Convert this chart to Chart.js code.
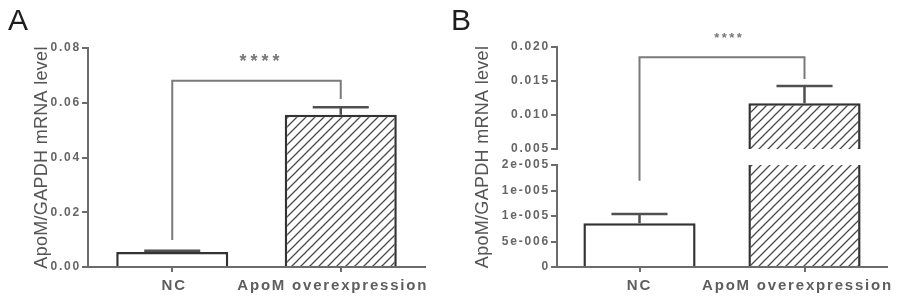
<!DOCTYPE html>
<html><head><meta charset="utf-8">
<script src="https://cdn.jsdelivr.net/npm/chart.js@4"></script>
<style>
html,body{margin:0;padding:0;background:#fff;}
#wrap{position:relative;width:898px;height:302px;overflow:hidden;background:#fff;}
.panel{position:absolute;top:0;width:449px;height:302px;}
.lbl{position:absolute;top:5px;font:30px "Liberation Sans",Arial,sans-serif;line-height:30px;color:#1e1e1e;}
</style></head><body>
<div id="wrap">
<div class="panel" style="left:0"><canvas id="cA" width="449" height="302"></canvas></div>
<div class="panel" style="left:449px"><canvas id="cB" width="449" height="302"></canvas></div>
<div class="lbl" style="left:8px">A</div>
<div class="lbl" style="left:451px">B</div>
</div>
<script>
// ---------- data ----------
const categories = ['NC', 'ApoM overexpression'];
const yTitle = 'ApoM/GAPDH mRNA level';

// Panel A
const meansA = [0.0055, 0.0556];
const semA = [0.0004, 0.0028];
const tickValsA = [0, 0.02, 0.04, 0.06, 0.08];
const tickTextA = ['0.00', '0.02', '0.04', '0.06', '0.08'];
const bracketA = [0.0099, 0.0680, 0.0614];   // left leg start, top bar, right leg end
const starsA = ['****', 0.0768];

// Panel B (broken axis)
const meansB = [0.0000086, 0.01172];
const semB = [0.0000018, 0.00254];
const tickValsBLow = [0, 0.000005, 0.00001, 0.000015, 0.00002];
const tickTextBLow = ['0', '5e-006', '1e-005', '1e-005', '2e-005'];
const tickValsBHigh = [0.005, 0.010, 0.015, 0.020];
const tickTextBHigh = ['0.005', '0.010', '0.015', '0.020'];
const bracketB = [0.0000169, 0.0185, 0.0153]; // left leg start (low axis), top (high), right end (high)
const starsB = ['****', 0.0218];

// ---------- style ----------
const FONT = '"Liberation Sans", Arial, sans-serif';
const AXIS = '#6c6c6c';
const BAR_BORDER = '#333333';
const ERR = '#505050';
const BRACKET = '#7a7a7a';

function makeHatch(ctx) {
  const s = 9, c = document.createElement('canvas');
  c.width = s; c.height = s;
  const g = c.getContext('2d');
  g.fillStyle = '#ffffff'; g.fillRect(0, 0, s, s);
  g.strokeStyle = '#4a4a4a'; g.lineWidth = 1.3;
  g.beginPath();
  g.moveTo(-1, s + 1); g.lineTo(s + 1, -1);
  g.moveTo(-1, 1); g.lineTo(1, -1);
  g.moveTo(s - 1, s + 1); g.lineTo(s + 1, s - 1);
  g.stroke();
  return ctx.createPattern(c, 'repeat');
}

function yScale(vals, texts, width, extra) {
  return Object.assign({
    type: 'linear', position: 'left',
    min: vals[0], max: vals[vals.length - 1],
    afterBuildTicks: s => { s.ticks = vals.map(v => ({ value: v })); },
    afterFit: s => { s.width = width; },
    ticks: { callback: (v, i) => texts[i], color: '#666666', autoSkip: false,
             font: { family: FONT, size: 12, weight: 'bold' }, padding: 1, z: 1 },
    grid: { display: true, drawOnChartArea: false, drawTicks: true, tickLength: 6, color: AXIS, lineWidth: 2 },
    border: { display: true, color: AXIS, width: 2 }
  }, extra || {});
}

function xScale() {
  return {
    type: 'category', offset: true,
    grid: { display: true, drawOnChartArea: false, offset: false, tickLength: 5, color: AXIS, lineWidth: 2 },
    border: { display: true, color: AXIS, width: 2 },
    ticks: { color: '#5e5e5e', font: { family: FONT, size: 15, weight: 'bold' }, padding: 5,
             maxRotation: 0, autoSkip: false, z: 1 },
    afterFit: s => { s.height = 35; }
  };
}

function titleOpts(pad) {
  return { display: true, text: yTitle, color: '#555555',
           font: { family: FONT, size: 18, weight: 'normal' }, padding: { top: pad, bottom: 0 } };
}

// overlay: error bars, significance bracket, stars + letter spacing control
const overlay = {
  id: 'overlay',
  beforeDraw(chart) { chart.ctx.letterSpacing = '0.3px'; },
  beforeDatasetsDraw(chart) { chart.ctx.letterSpacing = '1.8px'; },
  afterDatasetsDraw(chart, args, o) {
    const ctx = chart.ctx, x = chart.scales.x;
    const meta = chart.getDatasetMeta(o.widthFrom);
    // nudge category label placement (style only)
    const items = x.getLabelItems(chart.chartArea);
    if (!items._nudged) {
      items.forEach((it, i) => { it.options.translation[0] += o.labelDx[i]; });
      items._nudged = true;
    }
    ctx.save();
    ctx.letterSpacing = '0px';
    // error bars
    ctx.strokeStyle = ERR; ctx.lineWidth = 2.5;
    o.means.forEach((m, i) => {
      const ys = chart.scales[o.errAxes[i]];
      const px = x.getPixelForValue(i);
      const half = meta.data[i].width * 0.25;
      const yTop = ys.getPixelForValue(m + o.sem[i]);
      const yBar = ys.getPixelForValue(m);
      ctx.beginPath();
      ctx.moveTo(px, yBar); ctx.lineTo(px, yTop);
      ctx.moveTo(px - half, yTop); ctx.lineTo(px + half, yTop);
      ctx.stroke();
    });
    // bracket
    const b = o.bracket, ax = o.bracketAxes;
    const x0 = x.getPixelForValue(0), x1 = x.getPixelForValue(1);
    const yL = chart.scales[ax[0]].getPixelForValue(b[0]);
    const yT = chart.scales[ax[1]].getPixelForValue(b[1]);
    const yR = chart.scales[ax[2]].getPixelForValue(b[2]);
    ctx.strokeStyle = BRACKET; ctx.lineWidth = 2;
    ctx.beginPath();
    ctx.moveTo(x0, yL); ctx.lineTo(x0, yT); ctx.lineTo(x1, yT); ctx.lineTo(x1, yR);
    ctx.stroke();
    // stars
    const sy = chart.scales[o.starsAxis].getPixelForValue(o.stars[1]);
    ctx.font = 'bold ' + o.starSize + 'px ' + FONT;
    ctx.letterSpacing = o.starSpacing + 'px';
    ctx.fillStyle = '#777777';
    ctx.textAlign = 'center'; ctx.textBaseline = 'alphabetic';
    ctx.fillText(o.stars[0], (x0 + x1) / 2 + o.starSpacing / 2 + o.starDx, sy + 0.57 * o.starSize);
    ctx.restore();
    ctx.letterSpacing = '1.8px';
  }
};

// ---------- Panel A ----------
const ctxA = document.getElementById('cA').getContext('2d');
const hatchA = makeHatch(ctxA);
new Chart(ctxA, {
  type: 'bar',
  data: {
    labels: categories,
    datasets: [{
      data: meansA,
      backgroundColor: ['#ffffff', hatchA],
      borderColor: BAR_BORDER, borderWidth: 2.5,
      categoryPercentage: 1, barPercentage: 0.665
    }]
  },
  plugins: [overlay],
  options: {
    responsive: false, animation: false, devicePixelRatio: 1,
    layout: { padding: { left: 0, right: 24, top: 48, bottom: 0 } },
    plugins: {
      legend: { display: false }, tooltip: { enabled: false },
      overlay: { means: meansA, sem: semA, errAxes: ['y', 'y'], widthFrom: 0,
                 bracket: bracketA, bracketAxes: ['y', 'y', 'y'],
                 stars: starsA, starsAxis: 'y', starSize: 18, starSpacing: 4, starDx: 3,
                 labelDx: [2, -8] }
    },
    scales: {
      x: xScale(),
      y: yScale(tickValsA, tickTextA, 88, { title: titleOpts(31) })
    }
  }
});

// ---------- Panel B ----------
const ctxB = document.getElementById('cB').getContext('2d');
const hatchB = makeHatch(ctxB);
const lowMax = tickValsBLow[tickValsBLow.length - 1];
const thick = 2.5;
new Chart(ctxB, {
  type: 'bar',
  data: {
    labels: categories,
    datasets: [{
      yAxisID: 'yTop', grouped: false,
      data: [null, meansB[1]],
      backgroundColor: hatchB, borderColor: BAR_BORDER,
      borderWidth: { left: thick, right: thick, top: thick, bottom: 0 },
      categoryPercentage: 1, barPercentage: 0.68
    }, {
      yAxisID: 'yBot', grouped: false,
      data: meansB.map(v => Math.min(v, lowMax)),
      backgroundColor: ['#ffffff', hatchB], borderColor: BAR_BORDER,
      borderWidth: c => c.dataIndex === 1 ? { left: thick, right: thick, top: 0, bottom: thick } : thick,
      categoryPercentage: 1, barPercentage: 0.68
    }]
  },
  plugins: [overlay],
  options: {
    responsive: false, animation: false, devicePixelRatio: 1,
    layout: { padding: { left: 0, right: 11, top: 47, bottom: 0 } },
    plugins: {
      legend: { display: false }, tooltip: { enabled: false },
      overlay: { means: meansB, sem: semB, errAxes: ['yBot', 'yTop'], widthFrom: 1,
                 bracket: bracketB, bracketAxes: ['yBot', 'yTop', 'yTop'],
                 stars: starsB, starsAxis: 'yTop', starSize: 13, starSpacing: 2.5, starDx: 6,
                 labelDx: [0, -7] }
    },
    scales: {
      x: xScale(),
      yTitle: { type: 'linear', position: 'left', weight: 10, min: 0, max: 1,
                grid: { display: false, drawTicks: false }, border: { display: false },
                ticks: { display: false }, title: titleOpts(23),
                afterFit: s => { s.width = 50; } },
      yBot: yScale(tickValsBLow, tickTextBLow, 58, { stack: 'b', stackWeight: 102 }),
      yGap: { type: 'linear', position: 'left', stack: 'b', stackWeight: 16, min: 0, max: 1,
              grid: { display: false, drawTicks: false }, border: { display: false },
              ticks: { display: false }, afterFit: s => { s.width = 58; } },
      yTop: yScale(tickValsBHigh, tickTextBHigh, 58, { stack: 'b', stackWeight: 102 })
    }
  }
});
</script>
</body></html>
